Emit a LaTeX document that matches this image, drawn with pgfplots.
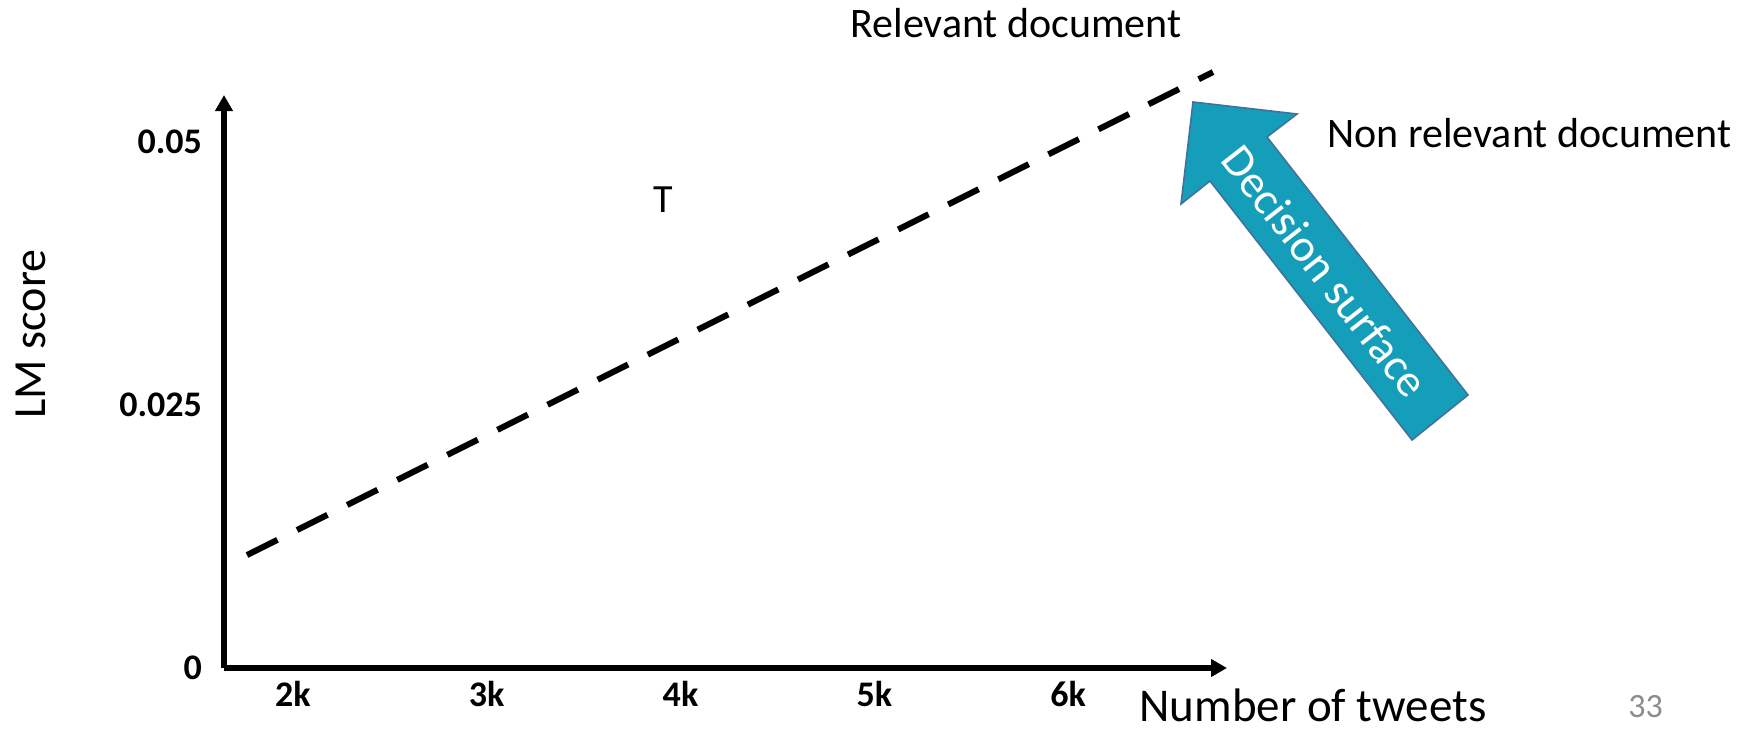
\documentclass[border=0pt]{standalone}
\usepackage{pgfplots}
\pgfplotsset{compat=1.18}
\usepackage{fontspec}
\setmainfont{Carlito}
\usetikzlibrary{arrows.meta}
\definecolor{arrowfill}{HTML}{149EB9}
\definecolor{arrowedge}{HTML}{41719C}
\definecolor{pagegray}{HTML}{8C8C8C}
\begin{document}
\begin{tikzpicture}[x=0.5pt,y=0.5pt]
\path[use as bounding box] (0,0) rectangle (1754,729);
\begin{axis}[
  at={(112pt,30.5pt)}, anchor=south west,
  scale only axis, width=501.5pt, height=286.5pt,
  xmin=1.6439, xmax=6.8206, ymin=0, ymax=0.05447,
  axis lines=left,
  axis line style={line width=2.6pt, -{Triangle[length=8pt,width=8.5pt]}},
  xtick={2,3,4,5,6}, xticklabels={2k,3k,4k,5k,6k},
  ytick={0,0.025,0.05}, yticklabels={0,0.025,0.05},
  scaled y ticks=false, scaled x ticks=false,
  major tick length=0pt,
  /pgf/number format/assume math mode=true,
  tick label style={font=\fontsize{18}{20}\selectfont\bfseries},
  yticklabel style={xshift=-7.5pt},
  xticklabel style={yshift=-3pt},
  xlabel={Number of tweets},
  xlabel style={at={(axis description cs:0.9123,-0.0925)}, anchor=base west, inner sep=0pt, font=\fontsize{23.5}{26}\selectfont},
  ylabel={LM score},
  ylabel style={at={(axis description cs:-0.1924,0.5829)}, anchor=center, font=\fontsize{23}{26}\selectfont},
  clip=false,
]
\addplot[line width=3pt, dash pattern=on 17pt off 11pt] coordinates {(1.7626,0.01074) (6.7484,0.05665)};
\end{axis}
\node[anchor=base west, inner sep=0pt, font=\fontsize{21}{24}\selectfont] at (850,691) {Relevant document};
\node[anchor=base west, inner sep=0pt, font=\fontsize{21}{24}\selectfont] at (1327,581) {Non relevant document};
\node[anchor=base, inner sep=0pt, font=\fontsize{20}{24}\selectfont] at (663,516) {T};
\node[anchor=base west, inner sep=0pt, font=\fontsize{17}{20}\selectfont, text=pagegray] at (1628,12) {33};
\draw[fill=arrowfill, draw=arrowedge, line width=0.8pt, line join=miter]
  (1193,627) -- (1297,615) -- (1267,592) -- (1468,334) -- (1412,289) -- (1210,548) -- (1181,525) -- cycle;
\node[rotate=-52, text=white, inner sep=0pt, font=\fontsize{23}{25}\selectfont] at (1325,458) {Decision surface};
\end{tikzpicture}
\end{document}
